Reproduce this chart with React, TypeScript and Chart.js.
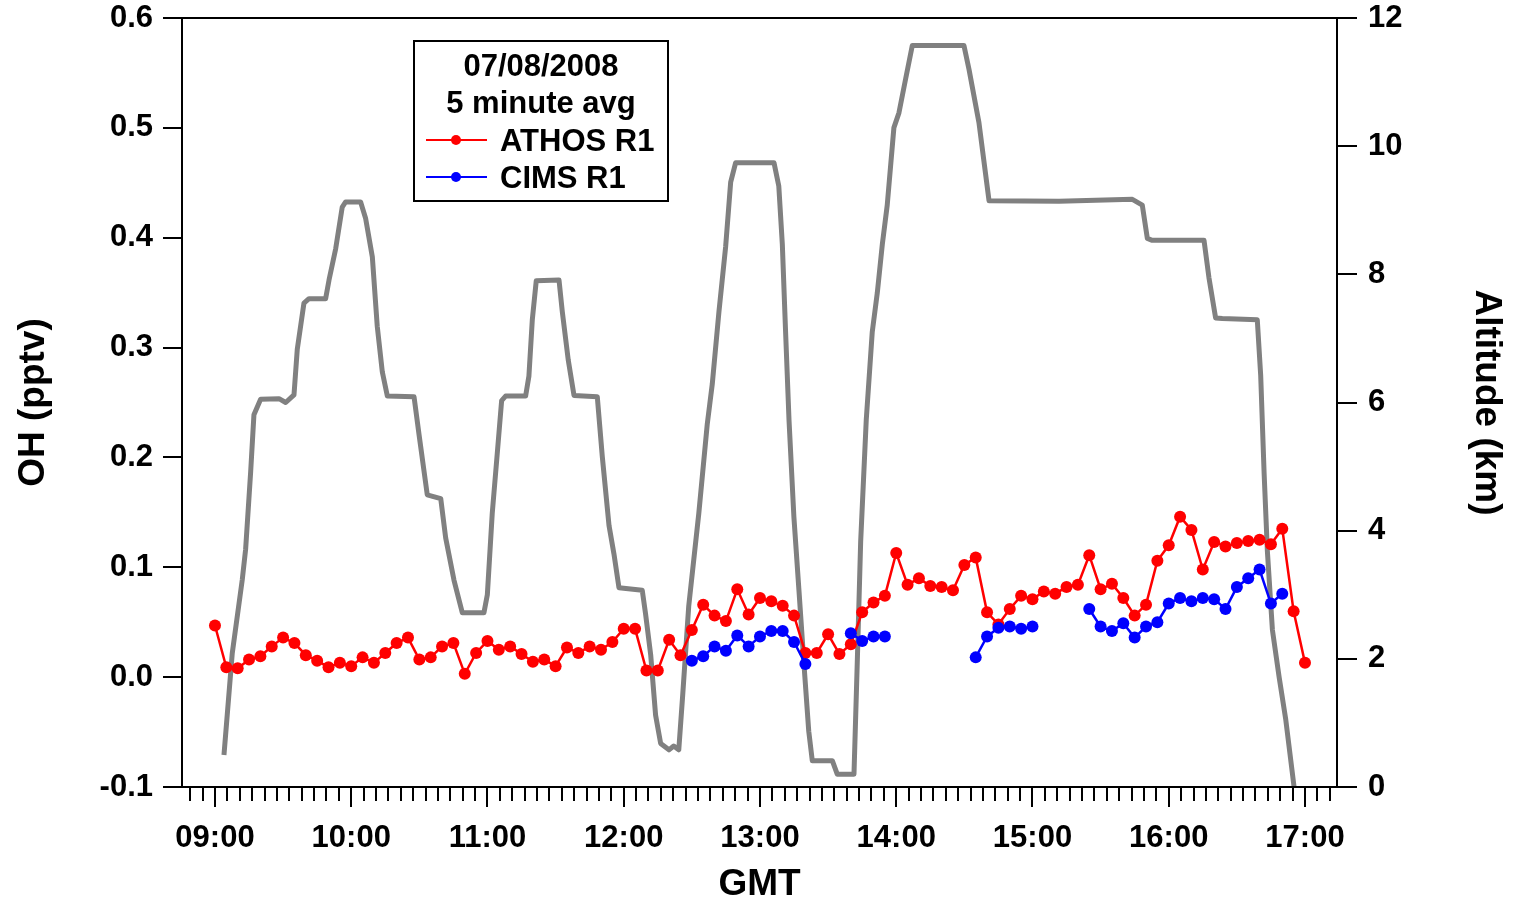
import React, { useEffect, useRef } from "react";
import { Chart, registerables } from "chart.js";

Chart.register(...registerables);

// 5-minute sample times (GMT)
const sampleTimes = [
  "09:00", "09:05", "09:10", "09:15", "09:20", "09:25", "09:30", "09:35", "09:40", "09:45", "09:50", "09:55",
  "10:00", "10:05", "10:10", "10:15", "10:20", "10:25", "10:30", "10:35", "10:40", "10:45", "10:50", "10:55",
  "11:00", "11:05", "11:10", "11:15", "11:20", "11:25", "11:30", "11:35", "11:40", "11:45", "11:50", "11:55",
  "12:00", "12:05", "12:10", "12:15", "12:20", "12:25", "12:30", "12:35", "12:40", "12:45", "12:50", "12:55",
  "13:00", "13:05", "13:10", "13:15", "13:20", "13:25", "13:30", "13:35", "13:40", "13:45", "13:50", "13:55",
  "14:00", "14:05", "14:10", "14:15", "14:20", "14:25", "14:30", "14:35", "14:40", "14:45", "14:50", "14:55",
  "15:00", "15:05", "15:10", "15:15", "15:20", "15:25", "15:30", "15:35", "15:40", "15:45", "15:50", "15:55",
  "16:00", "16:05", "16:10", "16:15", "16:20", "16:25", "16:30", "16:35", "16:40", "16:45", "16:50", "16:55",
  "17:00",
];

// OH (pptv), ATHOS R1
const athosOH = [
  0.047, 0.009, 0.008, 0.016, 0.019, 0.028, 0.036, 0.031, 0.020, 0.015, 0.009, 0.013,
  0.010, 0.018, 0.013, 0.022, 0.031, 0.036, 0.016, 0.018, 0.028, 0.031, 0.003, 0.022,
  0.033, 0.025, 0.028, 0.021, 0.014, 0.016, 0.010, 0.027, 0.022, 0.028, 0.025, 0.032,
  0.044, 0.044, 0.006, 0.006, 0.034, 0.020, 0.043, 0.066, 0.056, 0.051, 0.080, 0.057,
  0.072, 0.069, 0.065, 0.056, 0.022, 0.022, 0.039, 0.021, 0.030, 0.059, 0.068, 0.074,
  0.113, 0.084, 0.090, 0.083, 0.082, 0.079, 0.102, 0.109, 0.059, 0.048, 0.062, 0.074,
  0.071, 0.078, 0.076, 0.082, 0.084, 0.111, 0.080, 0.085, 0.072, 0.056, 0.066, 0.106,
  0.120, 0.146, 0.134, 0.098, 0.123, 0.119, 0.122, 0.124, 0.125, 0.121, 0.135, 0.060,
  0.013,
];

// OH (pptv), CIMS R1 (null = no data)
const cimsOH = [
  null, null, null, null, null, null, null, null, null, null, null, null,
  null, null, null, null, null, null, null, null, null, null, null, null,
  null, null, null, null, null, null, null, null, null, null, null, null,
  null, null, null, null, null, null, 0.015, 0.019, 0.028, 0.024, 0.038, 0.028,
  0.037, 0.042, 0.042, 0.032, 0.012, null, null, null, 0.040, 0.033, 0.037, 0.037,
  null, null, null, null, null, null, null, 0.018, 0.037, 0.045, 0.046, 0.044,
  0.046, null, null, null, null, 0.062, 0.046, 0.042, 0.049, 0.036, 0.046, 0.050,
  0.067, 0.072, 0.069, 0.072, 0.071, 0.062, 0.082, 0.090, 0.098, 0.067, 0.076, null,
  null,
];

// Aircraft altitude track (time in decimal hours GMT, altitude in km)
const altitudeHours = [
  9.066, 9.127, 9.200, 9.225, 9.262, 9.286, 9.335, 9.470, 9.519, 9.580,
  9.604, 9.653, 9.690, 9.812, 9.837, 9.886, 9.934, 9.959, 10.069, 10.106,
  10.155, 10.191, 10.228, 10.265, 10.461, 10.497, 10.558, 10.657, 10.693, 10.754,
  10.815, 10.974, 10.999, 11.035, 11.072, 11.104, 11.133, 11.280, 11.304, 11.329,
  11.358, 11.525, 11.549, 11.593, 11.635, 11.806, 11.843, 11.892, 11.928, 11.965,
  12.136, 12.161, 12.198, 12.234, 12.271, 12.332, 12.367, 12.404, 12.433, 12.477,
  12.551, 12.613, 12.650, 12.699, 12.748, 12.785, 12.821, 13.103, 13.138, 13.164,
  13.188, 13.213, 13.249, 13.286, 13.322, 13.358, 13.384, 13.531, 13.567, 13.690,
  13.714, 13.739, 13.780, 13.824, 13.861, 13.898, 13.934, 13.983, 14.020, 14.069,
  14.118, 14.497, 14.534, 14.607, 14.681, 15.195, 15.733, 15.806, 15.843, 15.879,
  16.259, 16.295, 16.344, 16.393, 16.650, 16.675, 16.700, 16.724, 16.761, 16.810,
  16.859, 16.920,
];
const altitudeKm = [
  0.50, 2.09, 3.23, 3.71, 4.92, 5.81, 6.05, 6.06, 6.00, 6.12,
  6.83, 7.55, 7.62, 7.62, 7.91, 8.40, 9.05, 9.13, 9.13, 8.87,
  8.27, 7.19, 6.48, 6.10, 6.09, 5.51, 4.56, 4.50, 3.89, 3.23,
  2.72, 2.72, 3.00, 4.27, 5.21, 6.03, 6.10, 6.10, 6.41, 7.29,
  7.90, 7.91, 7.42, 6.66, 6.11, 6.09, 5.15, 4.08, 3.64, 3.11,
  3.07, 2.69, 2.06, 1.12, 0.68, 0.58, 0.64, 0.58, 1.44, 2.82,
  4.27, 5.66, 6.29, 7.42, 8.43, 9.44, 9.74, 9.74, 9.38, 8.47,
  7.10, 5.73, 4.21, 3.07, 1.94, 0.87, 0.41, 0.41, 0.20, 0.20,
  1.94, 3.83, 5.73, 7.10, 7.71, 8.47, 9.08, 10.29, 10.52, 11.05,
  11.57, 11.57, 11.20, 10.37, 9.15, 9.14, 9.17, 9.08, 8.56, 8.53,
  8.53, 7.95, 7.32, 7.31, 7.29, 6.42, 4.90, 3.68, 2.45, 1.72,
  1.05, 0.00,
];

const legendTitleLines = ["07/08/2008", "5 minute avg"];
const seriesNames = ["ATHOS R1", "CIMS R1"];
const seriesColors = ["#ff0000", "#0000ff"];

const X_MIN = 8.758;
const X_MAX = 17.235;
const MINOR_PER_HOUR = 11;

const FONT = "'Liberation Sans', Arial, Helvetica, sans-serif";

const toHours = (s: string) => {
  const [h, m] = s.split(":").map(Number);
  return h + m / 60;
};
const isHour = (v: number) => Math.abs(v - Math.round(v)) < 1e-6;

export default function App() {
  const ref = useRef<HTMLCanvasElement>(null);

  useEffect(() => {
    const canvas = ref.current;
    if (!canvas) return;

    const athosData = sampleTimes.map((t, i) => ({ x: toHours(t), y: athosOH[i] }));
    const cimsData = sampleTimes.map((t, i) => ({ x: toHours(t), y: cimsOH[i] }));
    const altData = altitudeHours.map((h, i) => ({ x: h, y: altitudeKm[i] }));

    const framePlugin = {
      id: "frameAndLegend",
      afterDraw(chart: any) {
        const { ctx, chartArea: a, scales } = chart;
        ctx.save();
        ctx.strokeStyle = "#000";
        ctx.lineWidth = 2;
        ctx.lineCap = "butt";
        ctx.strokeRect(a.left, a.top, a.right - a.left, a.bottom - a.top);

        const xs = scales.x;
        xs.ticks.forEach((t: any) => {
          const px = Math.round(xs.getPixelForValue(t.value));
          const len = isHour(t.value) ? 20 : 14;
          ctx.beginPath();
          ctx.moveTo(px, a.bottom);
          ctx.lineTo(px, a.bottom + len);
          ctx.stroke();
        });
        const ys = scales.y;
        ys.ticks.forEach((t: any) => {
          const py = Math.round(ys.getPixelForValue(t.value));
          ctx.beginPath();
          ctx.moveTo(a.left - 19, py);
          ctx.lineTo(a.left, py);
          ctx.stroke();
        });
        const y2 = scales.y2;
        y2.ticks.forEach((t: any) => {
          const py = Math.round(y2.getPixelForValue(t.value));
          ctx.beginPath();
          ctx.moveTo(a.right, py);
          ctx.lineTo(a.right + 20, py);
          ctx.stroke();
        });

        // legend box
        const bx = a.left + 232;
        const by = a.top + 23;
        const bw = 254;
        const bh = 160;
        ctx.fillStyle = "#fff";
        ctx.fillRect(bx, by, bw, bh);
        ctx.strokeStyle = "#000";
        ctx.lineWidth = 2;
        ctx.strokeRect(bx, by, bw, bh);

        ctx.fillStyle = "#000";
        ctx.font = `bold 31px ${FONT}`;
        ctx.textBaseline = "alphabetic";
        ctx.textAlign = "center";
        ctx.fillText(legendTitleLines[0], bx + 127, by + 35);
        ctx.fillText(legendTitleLines[1], bx + 127, by + 72);
        ctx.textAlign = "left";
        seriesNames.forEach((name, i) => {
          const cy = by + 99 + i * 37;
          ctx.strokeStyle = seriesColors[i];
          ctx.lineWidth = 2;
          ctx.beginPath();
          ctx.moveTo(bx + 12, cy);
          ctx.lineTo(bx + 73, cy);
          ctx.stroke();
          ctx.fillStyle = seriesColors[i];
          ctx.beginPath();
          ctx.arc(bx + 42, cy, 5, 0, Math.PI * 2);
          ctx.fill();
          ctx.fillStyle = "#000";
          ctx.fillText(name, bx + 86, cy + 11);
        });
        ctx.restore();
      },
    };

    const tickFont = { family: FONT, size: 31, weight: "bold" as const, lineHeight: 1 };
    const titleFont = { family: FONT, size: 37, weight: "bold" as const, lineHeight: 1 };

    const noPadV = (scale: any, width: number) => {
      scale.width = width;
      scale.paddingTop = 0;
      scale.paddingBottom = 0;
    };

    const chart = new Chart(canvas, {
      type: "line",
      data: {
        datasets: [
          {
            label: seriesNames[1],
            data: cimsData,
            borderColor: seriesColors[1],
            backgroundColor: seriesColors[1],
            borderWidth: 2.5,
            pointRadius: 6,
            pointBorderWidth: 0,
            pointHoverRadius: 6,
            spanGaps: false,
            yAxisID: "y",
            order: 0,
          },
          {
            label: seriesNames[0],
            data: athosData,
            borderColor: seriesColors[0],
            backgroundColor: seriesColors[0],
            borderWidth: 2.5,
            pointRadius: 6,
            pointBorderWidth: 0,
            pointHoverRadius: 6,
            spanGaps: false,
            yAxisID: "y",
            order: 1,
          },
          {
            label: "Altitude",
            data: altData,
            borderColor: "#808080",
            backgroundColor: "#808080",
            borderWidth: 5,
            pointRadius: 0,
            borderJoinStyle: "round",
            yAxisID: "y2",
            order: 2,
          },
        ],
      },
      options: {
        responsive: false,
        animation: false,
        events: [],
        layout: { padding: { top: 18, left: 0, right: 0, bottom: 0 } },
        plugins: {
          legend: { display: false },
          tooltip: { enabled: false },
        },
        scales: {
          x: {
            type: "linear",
            min: X_MIN,
            max: X_MAX,
            afterBuildTicks: (scale: any) => {
              const ticks: { value: number }[] = [];
              for (let h = 8; h <= 18; h++) {
                for (let k = 0; k < MINOR_PER_HOUR; k++) {
                  const v = h + k / MINOR_PER_HOUR;
                  if (v >= X_MIN && v <= X_MAX) ticks.push({ value: v });
                }
              }
              scale.ticks = ticks;
            },
            afterFit: (scale: any) => {
              scale.height = 117;
              scale.paddingLeft = 0;
              scale.paddingRight = 0;
            },
            grid: { display: false, drawTicks: false },
            border: { display: false },
            ticks: {
              autoSkip: false,
              maxRotation: 0,
              minRotation: 0,
              padding: 36,
              color: "#000",
              font: tickFont,
              callback: (v: any) => {
                const n = Number(v);
                if (!isHour(n)) return "";
                const h = Math.round(n);
                return `${h < 10 ? "0" : ""}${h}:00`;
              },
            },
            title: {
              display: true,
              text: "GMT",
              color: "#000",
              font: titleFont,
              padding: { top: 0, bottom: 1 },
            },
          },
          y: {
            position: "left",
            min: -0.1,
            max: 0.6,
            afterFit: (scale: any) => noPadV(scale, 182),
            grid: { display: false, drawTicks: false },
            border: { display: false },
            ticks: {
              stepSize: 0.1,
              padding: 29,
              color: "#000",
              font: tickFont,
              callback: (v: any) => (Math.round(Number(v) * 10) / 10).toFixed(1),
            },
            title: {
              display: true,
              text: "OH (pptv)",
              color: "#000",
              font: titleFont,
              padding: { top: 15, bottom: 0 },
            },
          },
          y2: {
            position: "right",
            min: 0,
            max: 12,
            afterFit: (scale: any) => noPadV(scale, 182),
            grid: { display: false, drawTicks: false },
            border: { display: false },
            ticks: {
              stepSize: 2,
              padding: 31,
              color: "#000",
              font: tickFont,
            },
            title: {
              display: true,
              text: "Altitude (km)",
              color: "#000",
              font: titleFont,
              padding: { top: 14, bottom: 0 },
            },
          },
        },
      },
      plugins: [framePlugin],
    } as any);

    return () => chart.destroy();
  }, []);

  return (
    <div style={{ position: "fixed", left: 0, top: 0, width: 1519, height: 904, background: "#fff" }}>
      <canvas ref={ref} width={1519} height={904} style={{ width: 1519, height: 904, display: "block" }} />
    </div>
  );
}
